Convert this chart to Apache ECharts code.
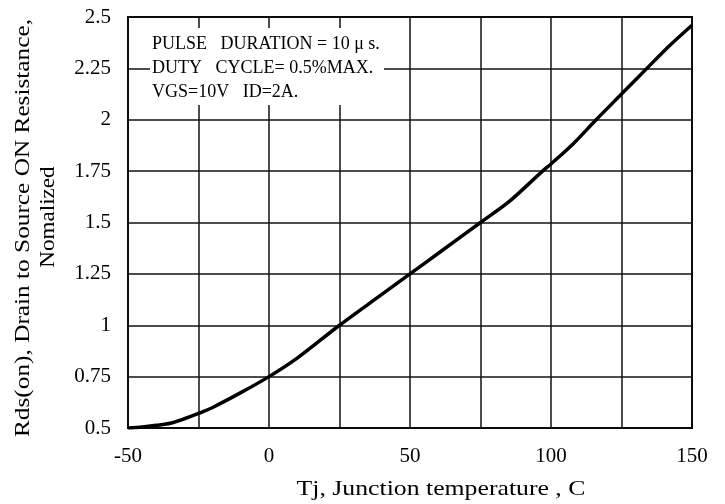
<!DOCTYPE html>
<html>
<head>
<meta charset="utf-8">
<script src="https://cdn.jsdelivr.net/npm/echarts@6/dist/echarts.min.js"></script>
<style>
  html, body { margin: 0; padding: 0; background: #fff; }
  #chart { width: 725px; height: 504px; }
</style>
</head>
<body>
<div id="chart"></div>
<script>
// Junction temperature (°C) and normalized on-resistance
const tempC = [-50, -45, -40, -35, -30, -25, -20, -10, 0, 10, 25, 40, 50, 62, 75, 85, 97, 100, 108, 116, 125, 134, 142, 150];
const rdsNorm = [0.5, 0.505, 0.513, 0.523, 0.545, 0.571, 0.60, 0.672, 0.75, 0.84, 1.0, 1.15, 1.25, 1.37, 1.5, 1.6, 1.75, 1.785, 1.885, 2.0, 2.125, 2.25, 2.36, 2.46];

const xTicks = [-50, 0, 50, 100, 150];
const noteLines = [
  'PULSE   DURATION = 10 \u03bc s.',
  'DUTY   CYCLE= 0.5%MAX.',
  'VGS=10V   ID=2A.'
];
const xTitle = 'Tj, Junction temperature , C';
const yTitle1 = 'Rds(on), Drain to Source ON Resistance,';
const yTitle2 = 'Nomalized';

const FONT = '"Liberation Serif", "DejaVu Serif", serif';
const chart = echarts.init(document.getElementById('chart'), null, { renderer: 'canvas' });

chart.setOption({
  backgroundColor: '#fff',
  animation: false,
  grid: {
    left: 128, right: 33, top: 17, bottom: 76,
    show: true, borderColor: '#000', borderWidth: 2, backgroundColor: 'transparent'
  },
  xAxis: {
    type: 'value', min: -50, max: 150, interval: 25,
    axisLine: { show: false },
    axisTick: { show: false },
    splitLine: { show: true, lineStyle: { color: '#111', width: 1.5 } },
    axisLabel: {
      margin: 18,
      fontFamily: FONT, fontSize: 21, color: '#000',
      formatter: v => xTicks.indexOf(v) >= 0 ? String(v) : ''
    }
  },
  yAxis: {
    type: 'value', min: 0.5, max: 2.5, interval: 0.25,
    axisLine: { show: false },
    axisTick: { show: false },
    splitLine: { show: true, lineStyle: { color: '#111', width: 1.5 } },
    axisLabel: { margin: 17, fontFamily: FONT, fontSize: 21, color: '#000' }
  },
  series: [{
    type: 'line',
    data: tempC.map((t, i) => [t, rdsNorm[i]]),
    smooth: 0.3,
    showSymbol: false,
    lineStyle: { color: '#000', width: 3.5 },
    z: 5
  }],
  graphic: [
    {
      type: 'rect', z: 10,
      shape: { x: 150, y: 28, width: 234, height: 77 },
      style: { fill: '#fff' }
    },
    {
      type: 'text', z: 11, x: 152, y: 44,
      style: { text: noteLines[0], font: '18px ' + FONT, fill: '#000', verticalAlign: 'middle' }
    },
    {
      type: 'text', z: 11, x: 152, y: 68,
      style: { text: noteLines[1], font: '18px ' + FONT, fill: '#000', verticalAlign: 'middle' }
    },
    {
      type: 'text', z: 11, x: 152, y: 92,
      style: { text: noteLines[2], font: '18px ' + FONT, fill: '#000', verticalAlign: 'middle' }
    },
    {
      type: 'text', z: 11, x: 441, y: 489, scaleX: 1.17,
      style: { text: xTitle, font: '22px ' + FONT, fill: '#000', align: 'center', verticalAlign: 'middle' }
    },
    {
      type: 'text', z: 11, x: 23, y: 228, rotation: Math.PI / 2, scaleX: 1.15,
      style: { text: yTitle1, font: '22px ' + FONT, fill: '#000', align: 'center', verticalAlign: 'middle' }
    },
    {
      type: 'text', z: 11, x: 48, y: 217, rotation: Math.PI / 2, scaleX: 1.1,
      style: { text: yTitle2, font: '21px ' + FONT, fill: '#000', align: 'center', verticalAlign: 'middle' }
    }
  ]
});
</script>
</body>
</html>
